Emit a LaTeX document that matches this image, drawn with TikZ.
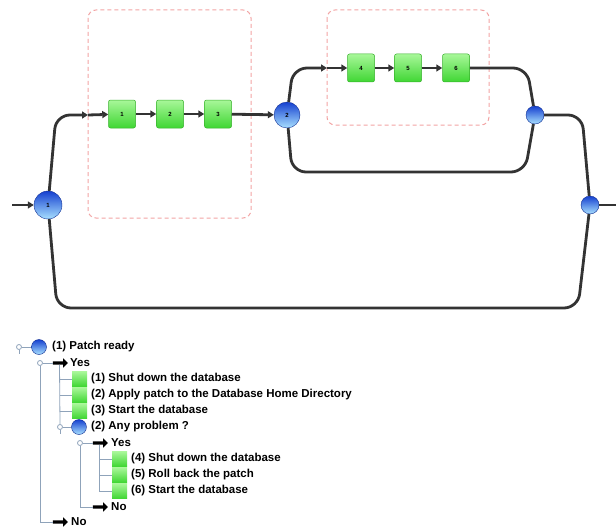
\documentclass[tikz,border=0pt]{standalone}
\usepackage{fontspec}
\setmainfont{Liberation Sans}
\usetikzlibrary{arrows.meta,shapes.arrows}

\definecolor{flowgray}{HTML}{333333}
\definecolor{zonered}{HTML}{F2A3A3}
\definecolor{taskhi}{HTML}{A8F799}
\definecolor{tasklo}{HTML}{3FD633}
\definecolor{taskline}{HTML}{37B02C}
\definecolor{gatehi}{HTML}{1540D0}
\definecolor{gatemid}{HTML}{3A78EC}
\definecolor{gatelo}{HTML}{A8E0FF}
\definecolor{treeline}{HTML}{8FA3BA}

\tikzset{
	flow/.style={draw=flowgray, line width=2.8pt, rounded corners=14pt},
	flowarrow/.style={flow, -{Triangle[length=6pt,width=7pt]}},
	zone/.style={draw=zonered, line width=1pt, dash pattern={on 4pt off 3pt},
		rounded corners=8pt},
	task/.style={shape=rectangle, rounded corners=2pt, draw=taskline,
		line width=0.5pt, top color=taskhi, bottom color=tasklo,
		minimum width=27pt, minimum height=28pt, inner sep=0pt,
		font=\fontsize{6}{6}\selectfont\bfseries},
	gate/.style={shape=circle, top color=gatehi, middle color=gatemid,
		bottom color=gatelo, draw=gatehi!70!black, line width=0.4pt,
		inner sep=0pt, font=\fontsize{6}{6}\selectfont\bfseries},
	handle/.style={shape=circle, draw=treeline, line width=0.8pt,
		minimum size=5pt, inner sep=0pt, fill=white},
	treeedge/.style={draw=treeline, line width=0.8pt},
	branch/.style={shape=single arrow, fill=black, inner sep=1.5pt,
		minimum height=15pt, single arrow head extend=3pt,
		single arrow head indent=0pt},
	item/.style={anchor=west, inner sep=0pt,
		font=\fontsize{11.5}{13}\selectfont\bfseries},
	leaf/.style={task, minimum width=15pt, minimum height=15pt,
		rounded corners=0pt, draw=none},
	ball/.style={gate, minimum size=15pt}
}

\begin{document}
\begin{tikzpicture}[x=1pt, y=-1pt]
	\useasboundingbox (0,0) rectangle (616,527);

	% Dashed groups round the two sequences
	\draw[zone] (88,10) rectangle (251,218);
	\draw[zone] (327,10) rectangle (489,125);

	% Gateways and tasks:
	\node[gate, minimum size=28pt] (G1) at (48,205){1};
	\node[gate, minimum size=26pt] (G2) at (287,115){2};
	\node[gate, minimum size=18pt] (G3) at (535,115){};
	\node[gate, minimum size=18pt] (G4) at (590,205){};
	\node[task] (T1) at (122,114){1};
	\node[task] (T2) at (170,114){2};
	\node[task] (T3) at (218,114){3};
	\node[task] (T4) at (361,68){4};
	\node[task] (T5) at (408,68){5};
	\node[task] (T6) at (456,68){6};
	\coordinate (IN) at (12,205);
	\coordinate (OUT) at (616,205);
	\coordinate (E1) at (88,115);
	\coordinate (E2) at (327,68);

	% Upper branch of G1 with the first sequence
	\draw[flowarrow] (IN) -- (G1);
	\draw[flowarrow] (G1) -- (56,115) -- (E1);
	\draw[flowarrow] (E1) -- (T1);
	\draw[flowarrow] (T1) -- (T2);
	\draw[flowarrow] (T2) -- (T3);
	\draw[flowarrow] (T3) -- (G2);

	% G2 splits: rollback sequence above, empty path below
	\draw[flowarrow] (G2) -- (293,68) -- (E2);
	\draw[flowarrow] (E2) -- (T4);
	\draw[flowarrow] (T4) -- (T5);
	\draw[flowarrow] (T5) -- (T6);
	\draw[flow] (T6) -- (527,68) -- (G3);
	\draw[flow] (G2) -- (292,172) -- (525,172) -- (G3);

	% Joins towards the exit
	\draw[flow] (G3) -- (582,115) -- (G4);
	\draw[flow] (G1) -- (57,308) -- (578,308) -- (G4);
	\draw[flow] (G4) -- (OUT);

	% Tree view of the same process
	\node[handle] (H0) at (19,347){};
	\node[ball] (B0) at (39,347){};
	\node[item] (L0) at (52,347){(1) Patch ready};
	\draw[treeedge] (H0.south) -- ++(0,4);
	\draw[treeedge] (H0.east) -- (B0.west);

	\node[handle] (H1) at (40,363){};
	\node[branch] (A1) at (59.5,363){};
	\node[item] (L1) at (70,363){Yes};
	\draw[treeedge] (H1.east) -- (A1.west);

	\node[leaf] (Q1) at (79.5,379){};
	\node[leaf] (Q2) at (79.5,395){};
	\node[leaf] (Q3) at (79.5,411){};
	\node[item] (L2) at (91,379){(1) Shut down the database};
	\node[item] (L3) at (91,395){(2) Apply patch to the Database Home Directory};
	\node[item] (L4) at (91,411){(3) Start the database};

	\node[handle] (H2) at (60,427){};
	\node[ball] (B2) at (79,427){};
	\node[item] (L5) at (91,427){(2) Any problem ?};
	\draw[treeedge] (A1.south) -- (H2.north);
	\foreach \q in {Q1,Q2,Q3}
		\draw[treeedge] (\q.west -| H2) -- (\q.west);
	\draw[treeedge] (H2.east) -- (B2.west);
	\draw[treeedge] (H2.south) -- ++(0,4);

	\node[handle] (H3) at (80,443){};
	\node[branch] (A3) at (99.5,443){};
	\node[item] (L6) at (111,443){Yes};
	\draw[treeedge] (H3.east) -- (A3.west);

	\node[leaf] (Q4) at (119.5,459){};
	\node[leaf] (Q5) at (119.5,475){};
	\node[leaf] (Q6) at (119.5,491){};
	\node[item] (L7) at (131,459){(4) Shut down the database};
	\node[item] (L8) at (131,475){(5) Roll back the patch};
	\node[item] (L9) at (131,491){(6) Start the database};
	\draw[treeedge] (A3.south) |- (Q6.west);
	\foreach \q in {Q4,Q5}
		\draw[treeedge] (\q.west -| A3) -- (\q.west);

	\node[branch] (A4) at (99.5,507){};
	\node[item] (L10) at (111,507){No};
	\draw[treeedge] (H3.south) |- (A4.west);

	\node[branch] (A5) at (59.5,522){};
	\node[item] (L11) at (71,522){No};
	\draw[treeedge] (H1.south) |- (A5.west);
\end{tikzpicture}
\end{document}
